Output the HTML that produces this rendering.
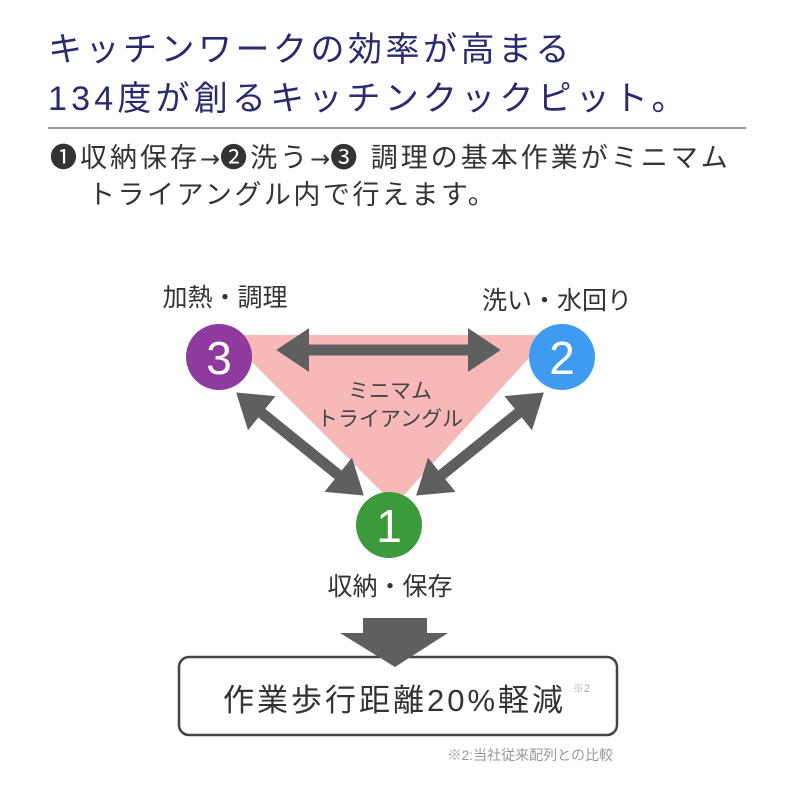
<!DOCTYPE html>
<html><head><meta charset="utf-8"><style>
body{margin:0;width:800px;height:800px;background:#fff;overflow:hidden;position:relative;font-family:"Liberation Sans","Noto Sans CJK JP",sans-serif}
.t{position:absolute;white-space:nowrap}
.ar{font-family:"DejaVu Sans",sans-serif;font-size:24px;letter-spacing:0px}
</style></head><body>
<div class="t" style="left:48px;top:30px;font-size:34px;color:#2a2a6e;line-height:40px;letter-spacing:3.5px">キッチンワークの効率が高まる</div>
<div class="t" style="left:48px;top:79px;font-size:34px;color:#2a2a6e;line-height:40px;letter-spacing:4.2px">134度が創るキッチンクックピット。</div>
<div style="position:absolute;left:48px;top:127px;width:698px;height:2px;background:#999"></div>
<div class="t" style="left:50px;top:140px;font-size:27px;color:#333;line-height:36px;letter-spacing:3px">❶収納保存<span class="ar">→</span>❷洗う<span class="ar">→</span>❸ 調理の基本作業がミニマム</div>
<div class="t" style="left:88px;top:177px;font-size:27px;color:#333;line-height:36px;letter-spacing:2.5px">トライアングル内で行えます。</div>
<svg width="800" height="800" style="position:absolute;left:0;top:0">
<defs><marker id="a" markerWidth="4" markerHeight="4" refX="2.2" refY="2" orient="auto-start-reverse" markerUnits="strokeWidth"><path d="M0,0 L3,2 L0,4 z" fill="#5f5f5f"/></marker></defs>
<polygon points="225,335 550,335 395,505" fill="#f7b8b8"/>
<line x1="285" y1="350" x2="492" y2="350" stroke="#5f5f5f" stroke-width="11" marker-start="url(#a)" marker-end="url(#a)"/>
<line x1="243" y1="398" x2="357" y2="490" stroke="#5f5f5f" stroke-width="11" marker-start="url(#a)" marker-end="url(#a)"/>
<line x1="537" y1="398" x2="423" y2="490" stroke="#5f5f5f" stroke-width="11" marker-start="url(#a)" marker-end="url(#a)"/>
<circle cx="219" cy="357" r="33" fill="#8e3a9e"/>
<circle cx="562" cy="357" r="33" fill="#3f9bf0"/>
<circle cx="389" cy="525" r="33" fill="#3b9a3b"/>
<text x="219" y="374" font-size="46" fill="#fff" text-anchor="middle" font-family="Liberation Sans">3</text>
<text x="562" y="374" font-size="46" fill="#fff" text-anchor="middle" font-family="Liberation Sans">2</text>
<text x="389" y="542" font-size="46" fill="#fff" text-anchor="middle" font-family="Liberation Sans">1</text>
<text x="390" y="398" font-size="21" fill="#444" text-anchor="middle" font-family="Liberation Sans,Noto Sans CJK JP,sans-serif">ミニマム</text>
<text x="390" y="426" font-size="21" fill="#444" text-anchor="middle" font-family="Liberation Sans,Noto Sans CJK JP,sans-serif">トライアングル</text>
<text x="225" y="306" font-size="25" fill="#333" text-anchor="middle" font-family="Liberation Sans,Noto Sans CJK JP,sans-serif">加熱・調理</text>
<text x="557" y="309" font-size="25" fill="#333" text-anchor="middle" font-family="Liberation Sans,Noto Sans CJK JP,sans-serif">洗い・水回り</text>
<text x="390" y="595" font-size="25" fill="#333" text-anchor="middle" font-family="Liberation Sans,Noto Sans CJK JP,sans-serif">収納・保存</text>
<rect x="179" y="657" width="438" height="78" rx="10" fill="#fff" stroke="#444" stroke-width="2.5"/>
<polygon points="363,618 427,618 427,633 448,633 395,667 340,633 363,633" fill="#5f5f5f"/>
<text x="223" y="711" font-size="31" fill="#333" letter-spacing="3" font-family="Liberation Sans,Noto Sans CJK JP,sans-serif">作業歩行距離20%軽減</text>
<text x="573" y="692" font-size="11" fill="#aaa" font-family="Liberation Sans,Noto Sans CJK JP,sans-serif">※2</text>
<text x="613" y="760" font-size="14" fill="#999" text-anchor="end" font-family="Liberation Sans,Noto Sans CJK JP,sans-serif">※2:当社従来配列との比較</text>
</svg>
</body></html>
